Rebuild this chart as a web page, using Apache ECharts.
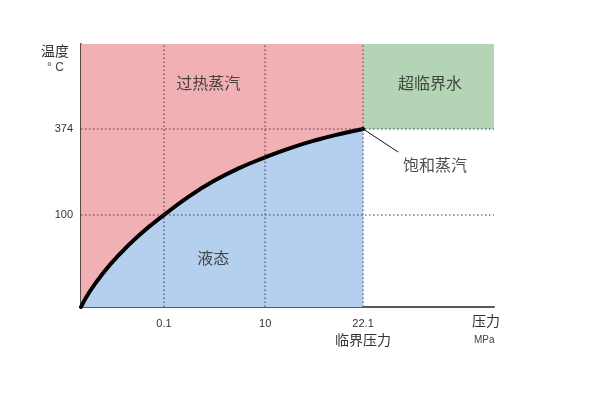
<!DOCTYPE html>
<html><head><meta charset="utf-8">
<script src="https://cdn.jsdelivr.net/npm/echarts@6/dist/echarts.min.js"></script>
<style>html,body{margin:0;padding:0;background:#fff}#c{width:599px;height:393px}</style>
</head><body><div id="c"></div>
<script>
// Schematic diagram units (axis is not linear in pressure/temperature)
const xTickPos = [20.1, 44.6, 68.3];
const xTickLabels = ['0.1', '10', '22.1'];
const xSubLabels = ['', '', '临界压力'];
const yTickPos = [35.0, 67.7];
const yTickLabels = ['100', '374'];
const curveX = [0, 2, 5, 9, 14, 20.1, 26, 32, 38, 44.6, 51, 57, 63, 68.3];
const curveY = [0, 5.6, 12.2, 19.5, 27.2, 35.0, 41.9, 47.8, 52.6, 56.9, 60.6, 63.5, 65.9, 67.7];
const regionNames = ['过热蒸汽', '超临界水', '液态', '饱和蒸汽'];
const regionX = [30.8, 84.5, 32.0, 85.7];
const regionY = [85.2, 85.2, 18.6, 54.0];
const leaderEnd = [76.8, 58.9];
const critX = 68.3, critY = 67.7, xMax = 100, yMax = 100;

const cjk = '"Noto Sans CJK SC", sans-serif';
const num = '"Liberation Sans", Arial, sans-serif';
const curve = curveX.map((x, i) => [x, curveY[i]]);
const dot = {color: 'rgba(70,45,80,0.65)', width: 1.5, type: [1.5, 2.5]};

const chart = echarts.init(document.getElementById('c'));
chart.setOption({
  animation: false,
  grid: {left: 81, top: 44, width: 413, height: 263},
  xAxis: {
    type: 'value', min: 0, max: xMax,
    axisLine: {show: true, onZero: false, lineStyle: {color: '#4f5b62', width: 2}},
    axisTick: {show: false}, splitLine: {show: false},
    axisLabel: {
      customValues: xTickPos, margin: 10, color: '#333',
      formatter: v => {
        const i = xTickPos.indexOf(v);
        if (i < 0) return '';
        return xSubLabels[i] ? '{n|' + xTickLabels[i] + '}\n{c|' + xSubLabels[i] + '}' : '{n|' + xTickLabels[i] + '}';
      },
      rich: {
        n: {fontFamily: num, fontSize: 11, color: '#333', lineHeight: 14},
        c: {fontFamily: cjk, fontSize: 14, color: '#333', lineHeight: 18}
      }
    }
  },
  yAxis: {
    type: 'value', min: 0, max: yMax,
    axisLine: {show: true, onZero: false, lineStyle: {color: '#5a4848', width: 2}},
    axisTick: {show: false}, splitLine: {show: false},
    axisLabel: {
      customValues: yTickPos, margin: 8, color: '#333', fontFamily: num, fontSize: 11,
      formatter: v => { const i = yTickPos.indexOf(v); return i < 0 ? '' : yTickLabels[i]; }
    }
  },
  graphic: [
    {type: 'text', left: 41, top: 44, style: {text: '温度', font: '14px ' + cjk, fill: '#333'}},
    {type: 'text', left: 47, top: 62, style: {text: '° C', font: '12px ' + num, fill: '#444'}},
    {type: 'text', left: 472, top: 314, style: {text: '压力', font: '14px ' + cjk, fill: '#333'}},
    {type: 'text', left: 474, top: 335, style: {text: 'MPa', font: '10px ' + num, fill: '#444'}}
  ],
  series: [
    {
      type: 'line', data: [], z: 1, silent: true,
      markArea: {
        silent: true,
        data: [
          [{coord: [0, 0], itemStyle: {color: '#f0b0b4'}}, {coord: [critX, yMax]}],
          [{coord: [critX, critY], itemStyle: {color: '#b3d4b5'}}, {coord: [xMax, yMax]}]
        ]
      }
    },
    {
      type: 'line', data: curve, z: 2, smooth: true, symbol: 'none', silent: true,
      lineStyle: {width: 0}, areaStyle: {color: '#b5cfef', opacity: 1, origin: 'start'}
    },
    {
      type: 'line', data: [], z: 3, silent: true,
      markLine: {
        silent: true, symbol: 'none', label: {show: false}, lineStyle: dot,
        data: [
          ...xTickPos.map(x => [{coord: [x, 0]}, {coord: [x, yMax]}]),
          ...yTickPos.map(y => [{coord: [0, y]}, {coord: [xMax, y]}]),
          [{coord: [critX, critY], lineStyle: {color: '#111', width: 1, type: 'solid'}},
           {coord: leaderEnd}]
        ]
      }
    },
    {
      type: 'line', data: curve, z: 4, smooth: true, symbol: 'none', silent: true,
      lineStyle: {color: '#000', width: 4, cap: 'round'}
    },
    {
      type: 'scatter', z: 5, symbolSize: 0, silent: true,
      data: regionNames.map((n, i) => ({value: [regionX[i], regionY[i]], name: n})),
      label: {
        show: true, position: 'inside', formatter: p => p.name,
        fontFamily: cjk, fontSize: 16, color: '#222'
      }
    }
  ]
});
</script></body></html>
